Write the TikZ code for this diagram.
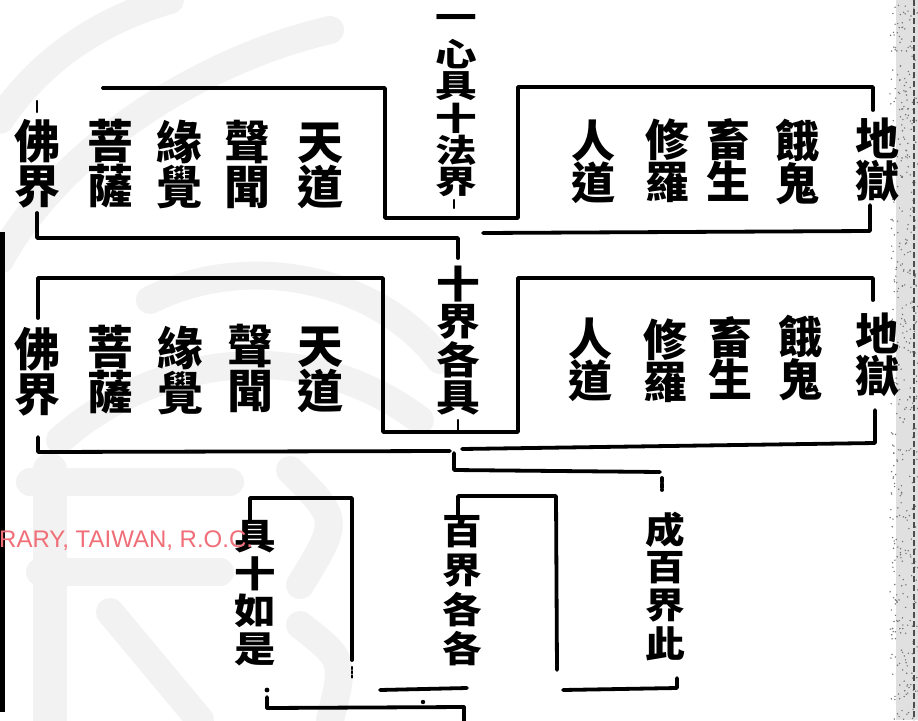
\documentclass[tikz,border=0pt]{standalone}
\usepackage{fontspec}
\newfontfamily\cjk{Noto Sans CJK TC}
\newfontfamily\lat{Liberation Sans}
\definecolor{wmred}{RGB}{240,110,120}
\newcommand\widech[2][1.3]{\scalebox{#1}[1]{#2}}
\begin{document}
\begin{tikzpicture}[x=1pt,y=-1pt,
  ink/.style={line width=3.8pt,line cap=round,line join=round},
  thin ink/.style={line width=2.2pt,line cap=round},
  wm/.style={line width=28pt,color=black!5,line cap=round},
  col/.style={font=\cjk\bfseries\fontsize{46}{45}\selectfont,inner sep=0pt,align=center},
  colr/.style={font=\cjk\bfseries\fontsize{44}{42}\selectfont,inner sep=0pt,align=center},
  ch/.style={font=\cjk\bfseries\fontsize{32}{32}\selectfont,inner sep=0pt},
  chm/.style={font=\cjk\bfseries\fontsize{38}{38}\selectfont,inner sep=0pt},
  chs/.style={font=\cjk\bfseries\fontsize{36}{36}\selectfont,inner sep=0pt},
]
\useasboundingbox (0,0) rectangle (918,720);
\fill[white] (0,0) rectangle (918,720);
% watermark (pale seal)
\draw[wm] (0,120) .. controls (40,60) and (100,20) .. (170,0);
\draw[wm] (0,260) .. controls (60,150) and (200,60) .. (330,30);
\draw[wm] (150,300) .. controls (250,250) and (380,280) .. (440,360);
\draw[wm] (60,440) .. controls (150,360) and (300,330) .. (420,420);
\draw[wm] (30,482) -- (230,482);
\draw[wm,line width=34pt] (50,470) -- (50,720);
\draw[wm] (40,572) -- (220,572);
\draw[wm] (110,612) -- (200,720);
\draw[wm] (290,470) .. controls (340,520) .. (300,585);
\draw[wm] (300,625) .. controls (345,660) .. (330,720);
% right edge scan noise
\fill[black!12] (896,0) rectangle (918,720);
\pgfmathsetseed{7}
\foreach \i in {1,...,450}{
  \pgfmathsetmacro\xx{890+28*rnd}\pgfmathsetmacro\yy{720*rnd}
  \fill[black!55] (\xx,\yy) circle (0.8);}
\draw[black!70,line width=1.5pt,dash pattern=on 6pt off 3pt] (914,0) -- (914,720);
% left edge bar
\fill[black] (0,232) rectangle (4.5,712);

% ---------- row 1 ----------
\node[col] (a1) at (320,166) {天\\道};
\node[col] (a2) at (247,164) {聲\\聞};
\node[col] (a3) at (179,164) {緣\\覺};
\node[col] (a4) at (110,164) {菩\\薩};
\node[col] (a5) at (37,164) {佛\\界};
\node[colr] (b1) at (593,162) {人\\道};
\node[colr] (b2) at (667,161) {修\\羅};
\node[colr] (b3) at (728,160) {畜\\生};
\node[colr] (b4) at (797,162) {餓\\鬼};
\node[colr] (b5) at (877,160) {地\\獄};
\foreach \c/\y/\n in {一/22/m1,心/54/m2,具/86/m3,十/118/m4,法/150/m5,界/182/m6}
  \node[ch] (\n) at (456,\y) {\widech{\c}};
% ---------- row 2 ----------
\node[col] (c1) at (320,370) {天\\道};
\node[col] (c2) at (250,368) {聲\\聞};
\node[col] (c3) at (180,370) {緣\\覺};
\node[col] (c4) at (110,370) {菩\\薩};
\node[col] (c5) at (37,372) {佛\\界};
\node[colr] (d1) at (590,360) {人\\道};
\node[colr] (d2) at (665,361) {修\\羅};
\node[colr] (d3) at (730,358) {畜\\生};
\node[colr] (d4) at (800,358) {餓\\鬼};
\node[colr] (d5) at (877,355) {地\\獄};
\foreach \c/\y/\n in {十/284/n1,界/322/n2,各/360/n3,具/398/n4}
  \node[chm] (\n) at (458,\y) {\widech[1.15]{\c}};
% ---------- row 3 ----------
\foreach \c/\y/\n in {具/537/p1,十/574/p2,如/611/p3,是/649/p4}
  \node[chs] (\n) at (255,\y) {\widech[1.15]{\c}};
\foreach \c/\y/\n in {百/532/q1,界/571/q2,各/610/q3,各/649/q4}
  \node[chs] (\n) at (462,\y) {\widech[1.1]{\c}};
\foreach \c/\y/\n in {成/530/r1,百/568/r2,界/606/r3,此/644/r4}
  \node[chs] (\n) at (665,\y) {\widech[1.1]{\c}};

% red watermark text (printed over the page)
\node[anchor=west,font=\lat\fontsize{24}{24}\selectfont,text=wmred,inner sep=0pt] (lib) at (-1,541) {RARY, TAIWAN, R.O.C.};

% ---------- connectors, row 1 ----------
\draw[ink] (103,88) -- (385,88) -- (385,218) -- (518,218) -- (518,87) -- (873,87) -- (873,110);
\draw[thin ink] (37,101) -- (37,112);
\draw[thin ink] (454,200) -- (454,208);
\draw[ink] (37,213) -- (37,238) -- (458,238) -- (458,258);
\draw[ink] (870,205) -- (870,231) -- (483,233);
% ---------- connectors, row 2 ----------
\draw[ink] (38,318) -- (38,278) -- (383,278) -- (383,432) -- (518,432) -- (518,278) -- (873,278) -- (873,300);
\draw[thin ink] (458,420) -- (458,430);
\draw[ink] (38,437) -- (38,452) -- (450,451);
\draw[ink] (875,410) -- (875,443) -- (462,449);
\draw[ink] (454,453) -- (454,470) -- (660,472);
\draw[ink,dotted] (662,478) -- (662,490);
% ---------- connectors, row 3 ----------
\draw[ink] (250,520) -- (250,498) -- (352,498) -- (352,660);
\draw[thin ink,dotted] (352,667) -- (352,678);
\draw[ink] (458,515) -- (458,496) -- (556,496) -- (557,670);
\draw[ink] (563,690) -- (677,688) -- (677,678);
\fill (267,690) circle (2.4);
\fill (423,702) circle (2.2);
\draw[ink] (380,690) -- (467,688);
\draw[ink] (267,697) -- (267,708) -- (464,707) -- (464,722);
\end{tikzpicture}
\end{document}
